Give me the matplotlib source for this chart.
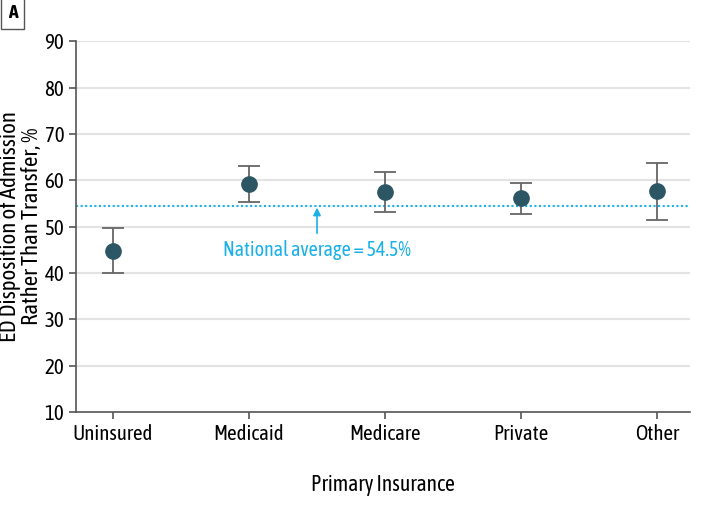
import matplotlib
matplotlib.use("Agg")
import matplotlib.pyplot as plt

# Data
categories = ['Uninsured', 'Medicaid', 'Medicare', 'Private', 'Other']
estimates = [44.8, 59.1, 57.5, 56.1, 57.7]
ci_low = [39.9, 55.3, 53.2, 52.7, 51.4]
ci_high = [49.7, 63.0, 61.8, 59.4, 63.7]
national_avg = 54.5

plt.rcParams['font.family'] = ['Asap Condensed', 'DejaVu Sans']

fig = plt.figure(figsize=(7.28, 5.15), dpi=100)
ax = fig.add_axes([0.1044, 0.2, 0.8436, 0.72])

x = list(range(len(categories)))
yerr = [[e - lo for e, lo in zip(estimates, ci_low)],
        [hi - e for e, hi in zip(estimates, ci_high)]]

# Grid lines
for v in range(20, 100, 10):
    ax.axhline(v, color='#e3e3e3', lw=1.5, zorder=0)

ax.axhline(national_avg, color='#1ab0e8', lw=1.5, ls=(0, (1, 1.2)), zorder=1)

ax.errorbar(x, estimates, yerr=yerr, fmt='o', color='#2c5663', ms=11,
            ecolor='#666666', elinewidth=1.3, capsize=8, capthick=1.3, zorder=3)

ax.annotate('National average = 54.5%', xy=(1.5, national_avg - 0.4),
            xytext=(1.5, 44.9), ha='center', va='center', fontsize=14.5,
            color='#1ab0e8',
            arrowprops=dict(arrowstyle='-|>', color='#1ab0e8', lw=1.2,
                            mutation_scale=11, shrinkA=3, shrinkB=0))

ax.set_xlim(-0.27, 4.24)
ax.set_ylim(10, 90)
ax.set_yticks(range(10, 100, 10))
ax.set_xticks(x)
ax.set_xticklabels(categories)

for s in ['top', 'right']:
    ax.spines[s].set_visible(False)
for s in ['left', 'bottom']:
    ax.spines[s].set_color('#555555')
    ax.spines[s].set_linewidth(1.2)
ax.tick_params(colors='#555555', labelcolor='black', labelsize=15, length=5, width=1.2)

ax.set_xlabel('Primary Insurance', fontsize=15.5, labelpad=22)
ax.set_ylabel('ED Disposition of Admission\nRather Than Transfer, %', fontsize=16.5,
              labelpad=1, linespacing=1.0)

fig.text(0.017, 0.975, 'A', fontsize=14, fontweight='bold', va='center', ha='center',
         bbox=dict(boxstyle='square,pad=0.35', fc='white', ec='#555555', lw=1))

fig.savefig('out.png', dpi=100)
